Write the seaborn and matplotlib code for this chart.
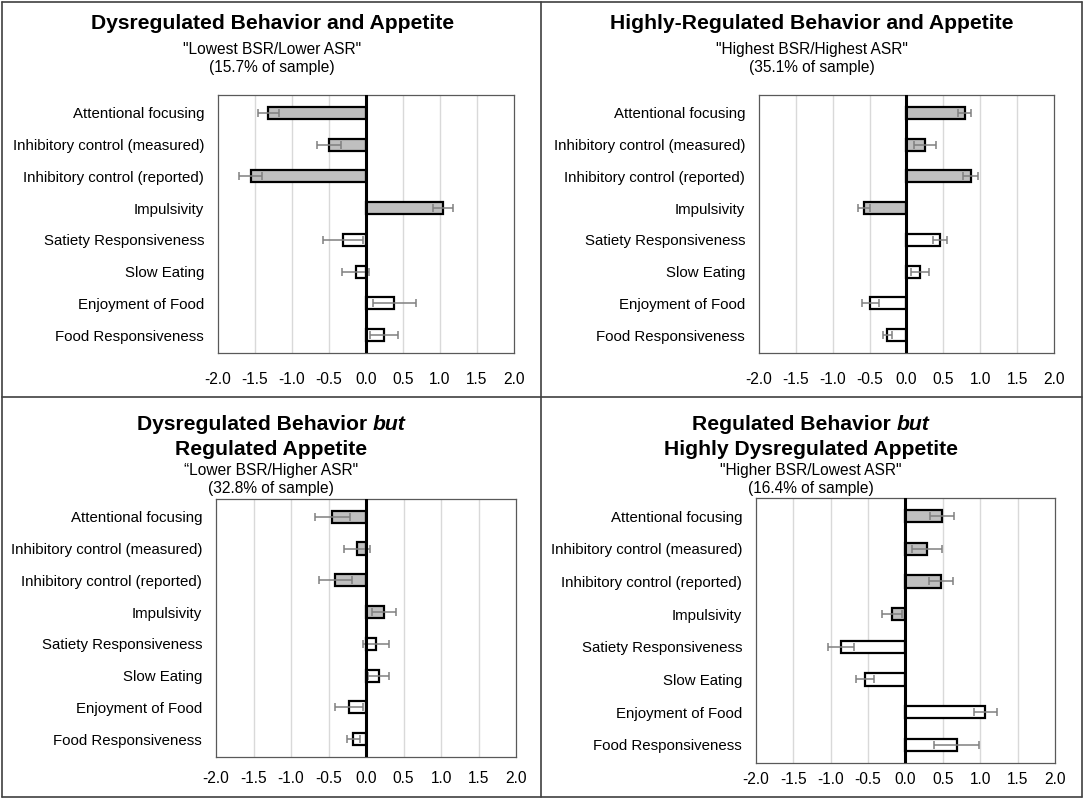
import numpy as np
import pandas as pd
import seaborn as sns
import matplotlib.pyplot as plt
from matplotlib.lines import Line2D

categories = [
    "Attentional focusing",
    "Inhibitory control (measured)",
    "Inhibitory control (reported)",
    "Impulsivity",
    "Satiety Responsiveness",
    "Slow Eating",
    "Enjoyment of Food",
    "Food Responsiveness",
]
domain = ["behavior"] * 4 + ["appetite"] * 4

# z-score means and CI half-widths
dys_means = [-1.32, -0.50, -1.56, 1.04, -0.31, -0.14, 0.38, 0.24]
dys_err = [0.14, 0.16, 0.15, 0.13, 0.27, 0.18, 0.29, 0.19]

high_means = [0.79, 0.25, 0.87, -0.58, 0.455, 0.18, -0.49, -0.26]
high_err = [0.09, 0.15, 0.10, 0.08, 0.10, 0.12, 0.12, 0.06]

dysbeh_means = [-0.45, -0.12, -0.41, 0.235, 0.137, 0.17, -0.23, -0.17]
dysbeh_err = [0.23, 0.17, 0.22, 0.16, 0.175, 0.14, 0.19, 0.085]

dysapp_means = [0.49, 0.29, 0.47, -0.18, -0.86, -0.54, 1.07, 0.685]
dysapp_err = [0.165, 0.20, 0.16, 0.13, 0.17, 0.125, 0.15, 0.30]

xticks = np.arange(-2.0, 2.01, 0.5)

panels = [
    dict(means=dys_means, err=dys_err, rect=[0.2011, 0.5582, 0.2731, 0.3229], xpad=14.0,
         cx=0.251,
         lines=[[("Dysregulated Behavior and Appetite", "bold")]],
         sub=['"Lowest BSR/Lower ASR"', "(15.7% of sample)"],
         ys=[0.9705, 0.9375, 0.915]),
    dict(means=high_means, err=high_err, rect=[0.7002, 0.5582, 0.2721, 0.3229], xpad=14.0,
         cx=0.749,
         lines=[[("Highly-Regulated Behavior and Appetite", "bold")]],
         sub=['"Highest BSR/Highest ASR"', "(35.1% of sample)"],
         ys=[0.9705, 0.9375, 0.915]),
    dict(means=dysbeh_means, err=dysbeh_err, rect=[0.1993, 0.0526, 0.2768, 0.3229], xpad=10.0,
         cx=0.250,
         lines=[[("Dysregulated Behavior ", "bold"), ("but", "bolditalic")],
                [("Regulated Appetite", "bold")]],
         sub=["\u201cLower BSR/Higher ASR\"", "(32.8% of sample)"],
         ys=[0.4690, 0.4380, 0.4108, 0.3885]),
    dict(means=dysapp_means, err=dysapp_err, rect=[0.6974, 0.0451, 0.2758, 0.3317], xpad=6.5,
         cx=0.748,
         lines=[[("Regulated Behavior ", "bold"), ("but", "bolditalic")],
                [("Highly Dysregulated Appetite", "bold")]],
         sub=['"Higher BSR/Lowest ASR"', "(16.4% of sample)"],
         ys=[0.4690, 0.4380, 0.4108, 0.3885]),
]

sns.set_theme(style="white")
plt.rcParams["font.family"] = ["Liberation Sans", "DejaVu Sans"]
plt.rcParams["text.color"] = "black"
plt.rcParams["xtick.color"] = "black"
plt.rcParams["ytick.color"] = "black"

fig = plt.figure(figsize=(10.84, 7.99), dpi=100)
renderer = fig.canvas.get_renderer()


def mixed_line(parts, cx, y, size):
    # draw a centred title line made of bold / bold-italic pieces
    texts = []
    for txt, style in parts:
        t = fig.text(0, y, txt, fontsize=size, fontweight="bold",
                     fontstyle="italic" if style == "bolditalic" else "normal",
                     ha="left", va="center", color="black")
        texts.append(t)
    widths = [t.get_window_extent(renderer).width / fig.bbox.width for t in texts]
    x = cx - sum(widths) / 2
    for t, w in zip(texts, widths):
        t.set_x(x)
        x += w


for p in panels:
    ax = fig.add_axes(p["rect"])
    df = pd.DataFrame({"category": categories, "value": p["means"],
                       "err": p["err"], "domain": domain})
    for xv in xticks[1:-1]:
        if xv != 0:
            ax.axvline(xv, color="#D9D9D9", lw=1, zorder=0)
    sns.barplot(data=df, x="value", y="category", hue="domain",
                palette={"behavior": "#BFBFBF", "appetite": "white"},
                dodge=False, width=0.38, edgecolor="black", linewidth=1.6,
                errorbar=None, legend=False, ax=ax, zorder=2)
    ax.errorbar(df["value"], np.arange(len(df)), xerr=df["err"], fmt="none",
                ecolor="#808080", elinewidth=1.1, capsize=3, capthick=1.1, zorder=3)
    ax.axvline(0, color="black", lw=2.2, zorder=4)
    ax.set_xlim(-2, 2)
    ax.set_xticks(xticks)
    ax.set_xticklabels([f"{t:.1f}" for t in xticks], fontsize=11.2)
    ax.set_xlabel("")
    ax.set_ylabel("")
    ax.tick_params(axis="x", length=0, pad=p["xpad"], colors="black")
    ax.tick_params(axis="y", length=0, pad=10, labelsize=10.8, colors="black")
    for s in ax.spines.values():
        s.set_color("#595959")
        s.set_linewidth(0.9)

    nl = len(p["lines"])
    for i, parts in enumerate(p["lines"]):
        mixed_line(parts, p["cx"], p["ys"][i], 15.2)
    for j, s in enumerate(p["sub"]):
        fig.text(p["cx"], p["ys"][nl + j], s, fontsize=11.2, ha="center", va="center")

# panel frames
frame = dict(color="#404040", lw=1.2, transform=fig.transFigure)
for xs, ys in [([0.002, 0.998], [0.998, 0.998]), ([0.002, 0.998], [0.002, 0.002]),
               ([0.002, 0.002], [0.002, 0.998]), ([0.998, 0.998], [0.002, 0.998]),
               ([0.499, 0.499], [0.002, 0.998]), ([0.002, 0.998], [0.503, 0.503])]:
    fig.add_artist(Line2D(xs, ys, **frame))

fig.savefig("out.png", dpi=100)
